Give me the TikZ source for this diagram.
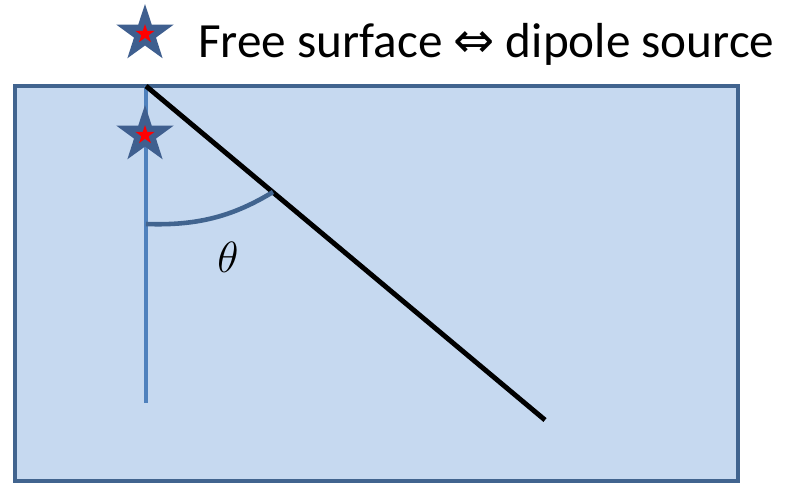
\documentclass[tikz,border=0pt]{standalone}
\usepackage{fontspec}
\setmainfont{Carlito}
\newfontfamily\symfont{DejaVu Sans}
\usetikzlibrary{calc,positioning,shapes.geometric}
\definecolor{waterfill}{HTML}{C6D9F0}
\definecolor{waterline}{HTML}{41648F}
\definecolor{axisblue}{HTML}{4F81BD}
\definecolor{starblue}{HTML}{3F5F8F}
\tikzset{
    source/.style={star, star points=5, star point ratio=2.6, fill=starblue, minimum size=12mm, inner sep=0pt},
    dipole/.style={star, star points=5, star point ratio=2.6, fill=red, minimum size=4mm, inner sep=0pt},
    axis/.style={draw=axisblue, line width=2.4pt},
    fault/.style={draw=black, line width=2.8pt},
    anglearc/.style={draw=waterline, line width=2.6pt}
}

\begin{document}
\begin{tikzpicture}[x=0.02cm, y=-0.02cm]
    \useasboundingbox (0,0) rectangle (785,485);
    % half space
    \draw[draw=waterline, fill=waterfill, line width=2.2pt] (15,86) rectangle (738,481);

    % Nodes
    \coordinate (top) at (146,86);
    \coordinate (bottom) at (146,403);
    \coordinate (tip) at (545,420);
    \coordinate (vpt) at (146,224);
    \coordinate (fpt) at (273,192);
    \node[source] (S1) at (145,34) {};
    \node[dipole] at (S1.center) {};
    \node[anchor=west, font=\fontsize{28}{32}\selectfont] (label) at (192,44) {Free surface {\symfont ⇔} dipole source};
    \node[font=\fontsize{30}{34}\selectfont] (theta) at (228,257) {$\theta$};

    % edges
    \draw[axis] (top) -- (bottom);
    \draw[fault] (top) -- (tip);
    \draw[anglearc] (vpt) .. controls (200,226) and (235,215) .. (fpt);
    \node[source] (S2) at (145,135) {};
    \node[dipole] at (S2.center) {};
\end{tikzpicture}
\end{document}
